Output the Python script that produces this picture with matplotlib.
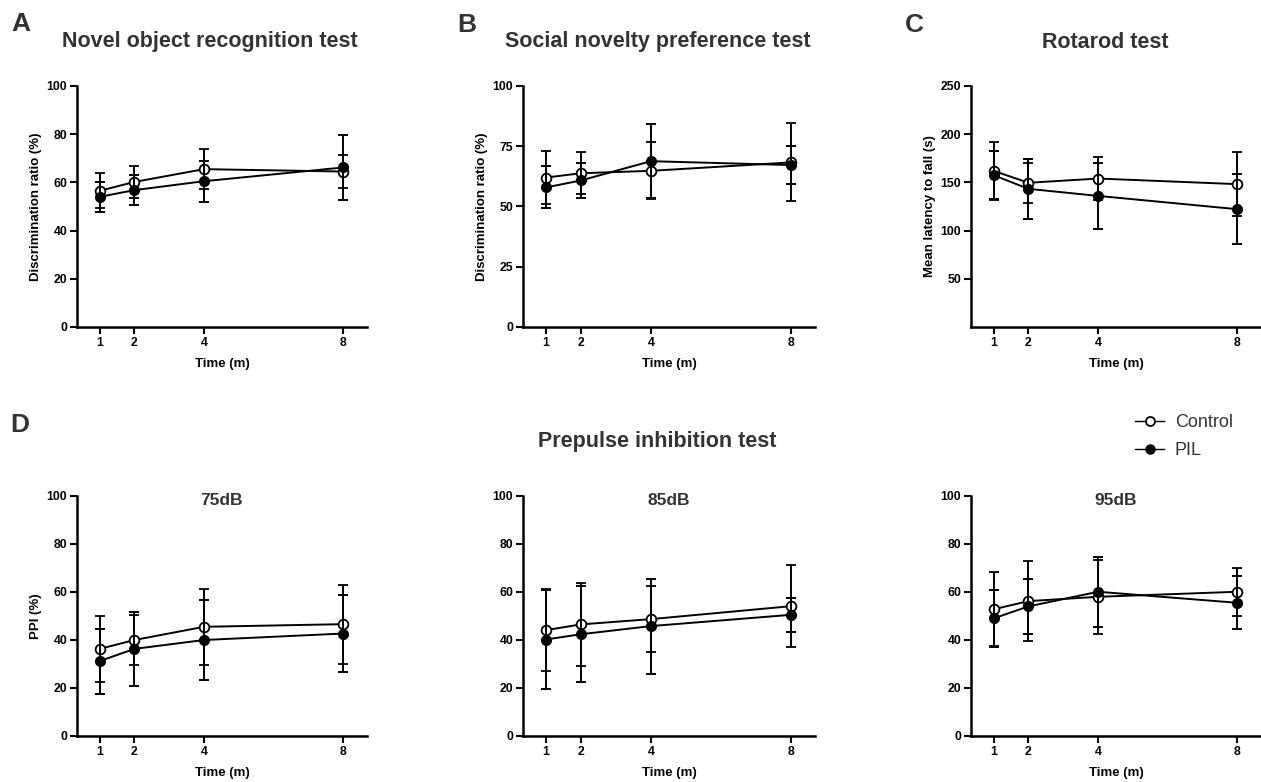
import matplotlib
matplotlib.use("Agg")
import matplotlib.pyplot as plt
from matplotlib.lines import Line2D

W, H = 1261, 782
months = [1, 2, 4, 8]

# Novel object recognition
nor_ctrl = [56.5, 60.2, 65.5, 64.5]
nor_ctrl_err = [7.2, 6.8, 8.3, 6.7]
nor_pil = [54.0, 56.8, 60.5, 66.2]
nor_pil_err = [6.2, 6.3, 8.5, 13.3]

# Social novelty preference
snp_ctrl = [62.0, 63.8, 64.8, 68.3]
snp_ctrl_err = [11.0, 8.8, 11.8, 16.2]
snp_pil = [57.9, 60.8, 68.8, 67.2]
snp_pil_err = [8.7, 7.3, 15.4, 8.0]

# Rotarod
rot_ctrl = [162.0, 149.6, 154.0, 148.2]
rot_ctrl_err = [30.2, 20.8, 22.6, 33.0]
rot_pil = [157.5, 143.3, 136.0, 122.2]
rot_pil_err = [25.0, 31.0, 34.4, 36.5]

# PPI
ppi75_ctrl = [36.3, 40.0, 45.5, 46.6]
ppi75_ctrl_err = [13.6, 10.3, 15.8, 16.5]
ppi75_pil = [31.2, 36.3, 40.0, 42.7]
ppi75_pil_err = [13.5, 15.4, 16.5, 16.0]

ppi85_ctrl = [44.1, 46.5, 48.7, 54.1]
ppi85_ctrl_err = [17.0, 17.2, 13.7, 17.0]
ppi85_pil = [40.2, 42.4, 45.8, 50.5]
ppi85_pil_err = [20.7, 20.0, 19.8, 7.0]

ppi95_ctrl = [52.8, 56.2, 58.0, 60.1]
ppi95_ctrl_err = [15.4, 16.8, 15.4, 10.1]
ppi95_pil = [49.0, 54.0, 60.1, 55.5]
ppi95_pil_err = [12.0, 11.3, 14.5, 11.0]

FAM = ['Liberation Sans Narrow', 'Liberation Sans', 'DejaVu Sans']
TFAM = ['Liberation Sans', 'DejaVu Sans']
GRAY = '#333333'

plt.rcParams['font.family'] = FAM

fig = plt.figure(figsize=(W/100, H/100), dpi=100)


def ax_at(left, top, right, bottom):
    return fig.add_axes([left/W, 1-bottom/H, (right-left)/W, (bottom-top)/H])


def draw(ax, ctrl, cerr, pil, perr, ylim, yticks, ylabel=None, sub=None):
    ax.errorbar(months, ctrl, yerr=cerr, color='black', lw=1.4, marker='o',
                ms=7, mfc='white', mec='black', mew=1.3, capsize=3.5,
                capthick=1.4, elinewidth=1.4, zorder=3)
    ax.errorbar(months, pil, yerr=perr, color='black', lw=1.4, marker='o',
                ms=7, mfc='black', mec='black', capsize=3.5, capthick=1.4,
                elinewidth=1.4, zorder=4)
    ax.set_xlim(0.35, 8.68)
    ax.set_ylim(*ylim)
    ax.set_xticks(months)
    ax.set_yticks(yticks)
    for s in ['top', 'right']:
        ax.spines[s].set_visible(False)
    for s in ['left', 'bottom']:
        ax.spines[s].set_linewidth(1.8)
    ax.tick_params(width=1.5, length=5, labelsize=8.8, pad=2)
    for lab in ax.get_xticklabels() + ax.get_yticklabels():
        lab.set_fontweight('bold')
    ax.set_xlabel('Time (m)', fontsize=9.5, fontweight='bold', labelpad=7)
    if ylabel:
        ax.set_ylabel(ylabel, fontsize=9.5, fontweight='bold', labelpad=3)
    if sub:
        ax.text(0.5, 0.983, sub, transform=ax.transAxes, ha='center',
                va='center', fontsize=12.5, fontweight='bold', color=GRAY,
                family=TFAM)


# Row 1
a = ax_at(77, 86, 367, 327)
draw(a, nor_ctrl, nor_ctrl_err, nor_pil, nor_pil_err, (0, 100),
     [0, 20, 40, 60, 80, 100], 'Discrimination ratio (%)')
b = ax_at(523, 86, 815, 327)
draw(b, snp_ctrl, snp_ctrl_err, snp_pil, snp_pil_err, (0, 100),
     [0, 25, 50, 75, 100], 'Discrimination ratio (%)')
c = ax_at(971, 86, 1261, 327)
draw(c, rot_ctrl, rot_ctrl_err, rot_pil, rot_pil_err, (0, 250),
     [50, 100, 150, 200, 250], 'Mean latency to fall (s)')

# Row 2
d1 = ax_at(77, 496, 367, 736)
draw(d1, ppi75_ctrl, ppi75_ctrl_err, ppi75_pil, ppi75_pil_err, (0, 100),
     [0, 20, 40, 60, 80, 100], 'PPI (%)', '75dB')
d2 = ax_at(523, 496, 815, 736)
draw(d2, ppi85_ctrl, ppi85_ctrl_err, ppi85_pil, ppi85_pil_err, (0, 100),
     [0, 20, 40, 60, 80, 100], None, '85dB')
d3 = ax_at(971, 496, 1261, 736)
draw(d3, ppi95_ctrl, ppi95_ctrl_err, ppi95_pil, ppi95_pil_err, (0, 100),
     [0, 20, 40, 60, 80, 100], None, '95dB')


def ftext(x, y, s, **kw):
    fig.text(x/W, 1-y/H, s, **kw)


tkw = dict(fontsize=15.5, fontweight='bold', color=GRAY, family=TFAM,
           ha='center', va='center')
ftext(210, 42, 'Novel object recognition test', **tkw)
ftext(658, 42, 'Social novelty preference test', **tkw)
ftext(1105, 43, 'Rotarod test', **tkw)
ftext(657, 442, 'Prepulse inhibition test', **tkw)

lkw = dict(fontsize=19, fontweight='bold', color=GRAY, family=TFAM,
           ha='center', va='center')
ftext(21, 24, 'A', **lkw)
ftext(467, 25, 'B', **lkw)
ftext(914, 25, 'C', **lkw)
ftext(20, 425, 'D', **lkw)

handles = [
    Line2D([], [], color='black', lw=1.0, marker='o', ms=6.5, mfc='white',
           mec='black', mew=1.3),
    Line2D([], [], color='black', lw=1.0, marker='o', ms=6.5, mfc='black',
           mec='black'),
]
fig.legend(handles, ['Control', 'PIL'], loc='upper left',
           bbox_to_anchor=(1119/W, 1-398/H), frameon=False,
           prop={'family': TFAM, 'size': 13}, labelcolor=GRAY,
           handlelength=1.6, handletextpad=0.6, labelspacing=0.6)

fig.savefig('out.png', dpi=100)
